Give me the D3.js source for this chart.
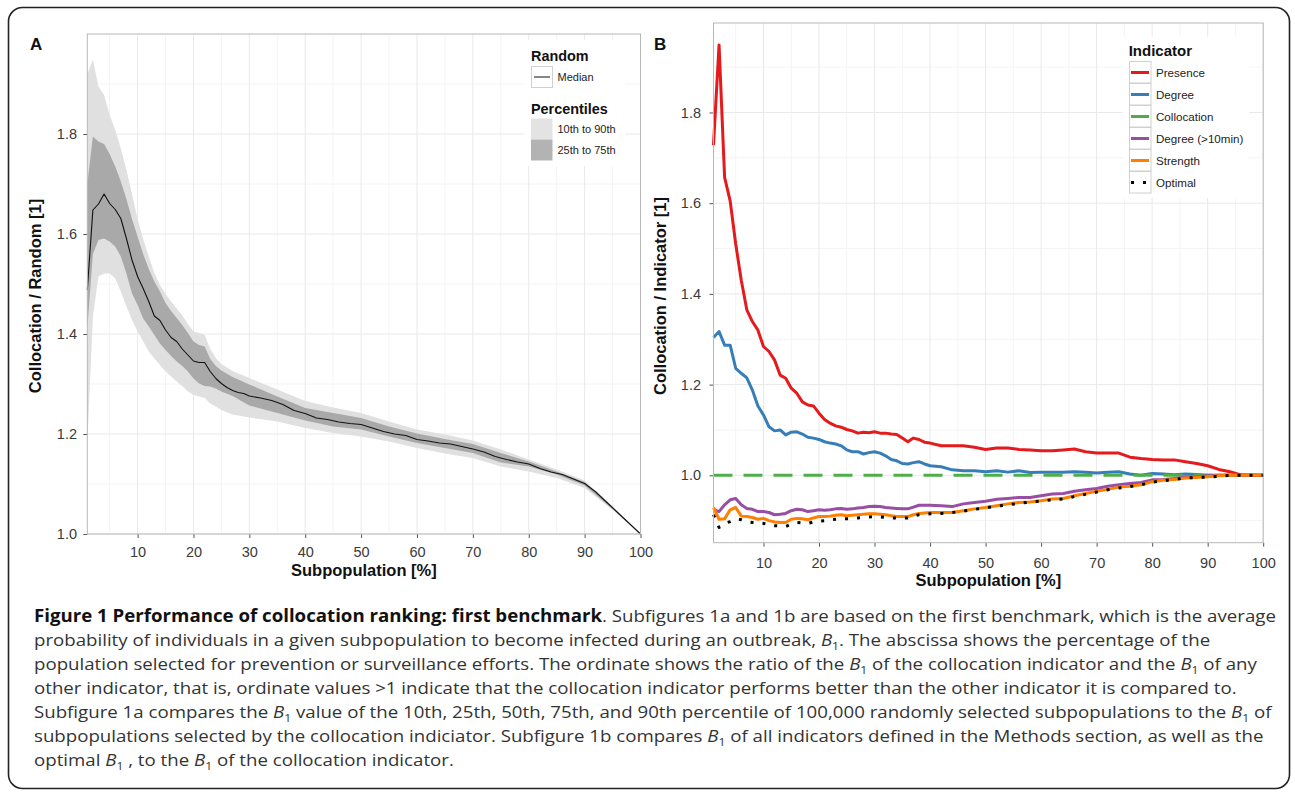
<!DOCTYPE html>
<html>
<head>
<meta charset="utf-8">
<script src="https://cdn.jsdelivr.net/npm/d3@7"></script>
<style>
  body { margin: 0; background: #fff; }
  text { font-family: "Liberation Sans", Arial, Helvetica, sans-serif; }
  .cap { font-family: "Open Sans", "Noto Sans", sans-serif; }
</style>
</head>
<body>
<svg id="fig" width="1295" height="795"></svg>
<script>
// ---- panel A: collocation / random (median + percentile bands)
var medX = [1,2,3,4,5,6,7,8,9,10,11,12,13,14,15,16,17,18,19,20,21,22,23,24,25,26,27,28,29,30,
            32,34,36,38,40,42,44,46,48,50,52,54,56,58,60,62,64,66,68,70,72,74,76,78,80,82,84,86,88,90,92,94,96,98,100];
var median = [1.488,1.648,1.660,1.680,1.661,1.649,1.631,1.591,1.548,1.515,
              1.491,1.465,1.436,1.427,1.408,1.393,1.385,1.370,1.358,1.346,
              1.343,1.343,1.325,1.311,1.301,1.293,1.287,1.283,1.281,1.276,
              1.272,1.267,1.259,1.247,1.241,1.232,1.229,1.224,1.221,1.219,
              1.212,1.205,1.200,1.197,1.189,1.186,1.182,1.180,1.175,1.170,
              1.164,1.155,1.149,1.144,1.140,1.131,1.124,1.119,1.110,1.101,
              1.084,1.063,1.042,1.021,1.000];

var bandX = [1,2,3,4,5,6,7,8,9,10,11,12,13,14,15,16,17,18,19,20,21,22,23,24,25,27,30,
             35,40,45,50,55,60,65,70,75,80,85,90,95,100];
var p90 = [1.920,1.949,1.895,1.878,1.838,1.808,1.771,1.728,1.680,1.630,
           1.590,1.555,1.522,1.498,1.480,1.465,1.451,1.437,1.420,1.405,1.402,1.398,
           1.370,1.352,1.340,1.326,1.312,
           1.289,1.266,1.253,1.242,1.225,1.209,1.199,1.187,1.169,1.149,1.129,1.107,1.056,1.000];
var p75 = [1.700,1.795,1.785,1.780,1.760,1.735,1.705,1.670,1.630,1.595,
           1.560,1.530,1.505,1.485,1.462,1.446,1.432,1.418,1.402,1.385,1.378,1.375,
           1.350,1.336,1.327,1.314,1.299,
           1.275,1.252,1.242,1.232,1.215,1.201,1.190,1.180,1.162,1.145,1.125,1.104,1.053,1.000];
var p25 = [1.410,1.560,1.588,1.591,1.585,1.575,1.555,1.521,1.481,1.458,
           1.431,1.415,1.398,1.381,1.368,1.356,1.345,1.336,1.325,1.311,1.301,1.296,
           1.295,1.291,1.285,1.276,1.257,
           1.242,1.227,1.215,1.209,1.195,1.182,1.172,1.162,1.143,1.135,1.119,1.097,1.050,1.000];
var p10 = [1.180,1.435,1.515,1.521,1.521,1.511,1.485,1.455,1.428,1.405,
           1.385,1.365,1.351,1.338,1.325,1.315,1.305,1.296,1.285,1.278,1.275,1.272,
           1.261,1.255,1.248,1.239,1.233,
           1.225,1.212,1.202,1.195,1.185,1.172,1.161,1.152,1.135,1.125,1.112,1.092,1.048,1.000];

// ---- panel B: collocation / indicator
var bX = [1,2,3,4,5,6,7,8,9,10,11,12,13,14,15,16,17,18,19,20,21,22,23,24,25,26,27,28,29,30,
          31,32,33,34,35,36,37,38,39,40,
          42,44,46,48,50,52,54,56,58,60,62,64,66,68,70,72,74,76,78,80,82,84,86,88,90,92,94,96,98,100];
var presence = [1.728,1.949,1.657,1.605,1.510,1.430,1.365,1.339,1.320,1.284,
                1.273,1.254,1.221,1.214,1.192,1.181,1.162,1.155,1.153,1.137,
                1.123,1.115,1.109,1.106,1.101,1.098,1.093,1.095,1.094,1.096,
                1.093,1.093,1.091,1.090,1.082,1.074,1.082,1.079,1.073,1.071,
                1.065,1.065,1.065,1.062,1.057,1.060,1.060,1.057,1.056,1.054,
                1.054,1.056,1.058,1.052,1.049,1.049,1.049,1.040,1.037,1.035,
                1.034,1.034,1.030,1.026,1.021,1.013,1.008,1.001,1.000,1.000];
var degree = [1.304,1.317,1.287,1.287,1.236,1.225,1.215,1.188,1.153,1.133,
              1.107,1.098,1.100,1.089,1.095,1.096,1.091,1.084,1.082,1.079,
              1.074,1.071,1.069,1.065,1.056,1.052,1.052,1.047,1.050,1.052,
              1.049,1.043,1.035,1.032,1.026,1.025,1.028,1.030,1.025,1.021,
              1.019,1.012,1.010,1.010,1.008,1.010,1.007,1.010,1.006,1.007,
              1.007,1.007,1.008,1.007,1.005,1.007,1.008,1.003,1.000,1.004,
              1.003,1.001,1.003,1.002,1.000,1.000,1.000,1.000,1.000,1.000];
var collocationX = [1, 100];
var collocation = [1.000, 1.000];
var degree10 = [0.924,0.920,0.935,0.946,0.949,0.935,0.927,0.925,0.920,0.920,
                0.918,0.913,0.914,0.916,0.922,0.925,0.924,0.920,0.922,0.924,
                0.923,0.924,0.926,0.927,0.925,0.926,0.928,0.929,0.931,0.932,
                0.931,0.929,0.928,0.927,0.926,0.926,0.930,0.934,0.934,0.934,
                0.933,0.931,0.937,0.940,0.943,0.947,0.949,0.951,0.951,0.955,
                0.959,0.960,0.965,0.968,0.971,0.976,0.979,0.982,0.984,0.990,
                0.991,0.993,0.996,0.997,0.999,1.000,1.000,1.000,1.000,1.000];
var strength = [0.929,0.903,0.904,0.924,0.929,0.910,0.909,0.907,0.903,0.905,
                0.900,0.897,0.896,0.896,0.903,0.905,0.904,0.902,0.906,0.909,
                0.909,0.910,0.912,0.913,0.911,0.912,0.913,0.914,0.915,0.915,
                0.914,0.913,0.911,0.909,0.909,0.909,0.913,0.916,0.917,0.918,
                0.918,0.918,0.922,0.926,0.929,0.933,0.937,0.940,0.941,0.944,
                0.948,0.949,0.955,0.960,0.965,0.969,0.974,0.976,0.979,0.986,
                0.989,0.991,0.994,0.995,0.997,0.999,1.000,1.000,1.000,1.000];
var optimal = [0.913,0.885,0.894,0.898,0.904,0.902,0.898,0.896,0.895,0.894,
               0.891,0.889,0.888,0.887,0.892,0.896,0.895,0.894,0.897,0.899,
               0.900,0.902,0.903,0.904,0.904,0.905,0.906,0.907,0.908,0.909,
               0.908,0.907,0.906,0.906,0.906,0.906,0.910,0.913,0.914,0.915,
               0.916,0.918,0.921,0.925,0.928,0.932,0.935,0.938,0.941,0.943,
               0.946,0.948,0.953,0.958,0.963,0.968,0.972,0.975,0.979,0.985,
               0.988,0.991,0.994,0.995,0.996,0.998,1.000,1.000,1.000,1.000];

var indicatorNames = ["Presence", "Degree", "Collocation", "Degree (>10min)", "Strength", "Optimal"];

// ticks
var xTicks = [10, 20, 30, 40, 50, 60, 70, 80, 90, 100];
var xMinor = [5, 15, 25, 35, 45, 55, 65, 75, 85, 95];
var yTicks = [1.0, 1.2, 1.4, 1.6, 1.8];
var aMinorY = [1.1, 1.3, 1.5, 1.7, 1.9];
var bMinorY = [0.9, 1.1, 1.3, 1.5, 1.7, 1.9];

var indicatorColors = ["#e41a1c", "#377eb8", "#4daf4a", "#984ea3", "#ff7f00", "#000000"],
    indicatorDash = [null, null, "19,11", null, null, "3,9"];

var svg = d3.select("#fig");

// outer frame
svg.append("rect")
    .attr("x", 8.5).attr("y", 7.5)
    .attr("width", 1281).attr("height", 781)
    .attr("rx", 14).attr("ry", 14)
    .attr("fill", "#fff")
    .attr("stroke", "#222")
    .attr("stroke-width", 1.6);

var xA = d3.scaleLinear().domain([1, 100]).range([87.3, 640.5]),
    yA = d3.scaleLinear().domain([1.0, 2.0]).range([534, 34]),
    xB = d3.scaleLinear().domain([1, 100]).range([713.5, 1263.2]),
    yB = d3.scaleLinear().domain([0.8514, 1.9973]).range([542.7, 23]);

function drawGrid(g, x, y, minorY) {
  var xr = x.range(), yr = y.range();
  g.append("rect")
      .attr("x", xr[0]).attr("y", yr[1])
      .attr("width", xr[1] - xr[0]).attr("height", yr[0] - yr[1])
      .attr("fill", "#fff");
  g.selectAll(".vminor").data(xMinor).enter().append("line")
      .attr("x1", function(d) { return x(d); }).attr("x2", function(d) { return x(d); })
      .attr("y1", yr[1]).attr("y2", yr[0])
      .attr("stroke", "#f4f4f4").attr("stroke-width", 1);
  g.selectAll(".hminor").data(minorY).enter().append("line")
      .attr("y1", function(d) { return y(d); }).attr("y2", function(d) { return y(d); })
      .attr("x1", xr[0]).attr("x2", xr[1])
      .attr("stroke", "#f4f4f4").attr("stroke-width", 1);
  g.selectAll(".vmajor").data(xTicks).enter().append("line")
      .attr("x1", function(d) { return x(d); }).attr("x2", function(d) { return x(d); })
      .attr("y1", yr[1]).attr("y2", yr[0])
      .attr("stroke", "#e9e9e9").attr("stroke-width", 1);
  g.selectAll(".hmajor").data(yTicks).enter().append("line")
      .attr("y1", function(d) { return y(d); }).attr("y2", function(d) { return y(d); })
      .attr("x1", xr[0]).attr("x2", xr[1])
      .attr("stroke", "#e9e9e9").attr("stroke-width", 1);
}

function drawAxes(g, x, y, xPad, yPad) {
  var xr = x.range(), yr = y.range();
  var ax = g.append("g")
      .attr("transform", "translate(0," + yr[0] + ")")
      .call(d3.axisBottom(x).tickValues(xTicks).tickSize(4).tickPadding(xPad));
  var ay = g.append("g")
      .attr("transform", "translate(" + xr[0] + ",0)")
      .call(d3.axisLeft(y).tickValues(yTicks).tickSize(4).tickPadding(yPad).tickFormat(d3.format(".1f")));
  [ax, ay].forEach(function(a) {
    a.select(".domain").remove();
    a.selectAll(".tick line").attr("stroke", "#555");
    a.selectAll(".tick text")
        .attr("fill", "#3a3a3a")
        .style("font-size", "14.5px")
        .style("font-family", "'Liberation Sans', Arial, sans-serif");
  });
  // panel border
  g.append("rect")
      .attr("x", xr[0]).attr("y", yr[1])
      .attr("width", xr[1] - xr[0]).attr("height", yr[0] - yr[1])
      .attr("fill", "none")
      .attr("stroke", "#b8b8b8").attr("stroke-width", 1);
}

// ================= Panel A =================
var gA = svg.append("g");
drawGrid(gA, xA, yA, aMinorY);

var bands = bandX.map(function(d, i) { return { x: d, p10: p10[i], p25: p25[i], p75: p75[i], p90: p90[i] }; });

gA.append("path")
    .datum(bands)
    .attr("fill", "#e0e0e0")
    .attr("d", d3.area()
        .x(function(d) { return xA(d.x); })
        .y0(function(d) { return yA(d.p10); })
        .y1(function(d) { return yA(d.p90); }));

gA.append("path")
    .datum(bands)
    .attr("fill", "#a9a9a9")
    .attr("d", d3.area()
        .x(function(d) { return xA(d.x); })
        .y0(function(d) { return yA(d.p25); })
        .y1(function(d) { return yA(d.p75); }));

gA.append("path")
    .datum(medX.map(function(d, i) { return [d, median[i]]; }))
    .attr("fill", "none")
    .attr("stroke", "#111")
    .attr("stroke-width", 1.1)
    .attr("stroke-linejoin", "round")
    .attr("d", d3.line()
        .x(function(d) { return xA(d[0]); })
        .y(function(d) { return yA(d[1]); }));

// legend A
var legA = gA.append("g");
legA.append("rect").attr("x", 525).attr("y", 40).attr("width", 100).attr("height", 126).attr("fill", "#fff");
legA.append("text").text("Random").attr("x", 531).attr("y", 61)
    .style("font-size", "14.4px").style("font-weight", "bold").attr("fill", "#111");
legA.append("rect").attr("x", 531.5).attr("y", 66.5).attr("width", 21).attr("height", 21)
    .attr("fill", "#fff").attr("stroke", "#d0d0d0");
legA.append("line").attr("x1", 534).attr("x2", 550).attr("y1", 77).attr("y2", 77)
    .attr("stroke", "#333").attr("stroke-width", 1.2);
legA.append("text").text("Median").attr("x", 557.5).attr("y", 81)
    .style("font-size", "11px").attr("fill", "#222");
legA.append("text").text("Percentiles").attr("x", 531).attr("y", 114)
    .style("font-size", "14.4px").style("font-weight", "bold").attr("fill", "#111");
legA.append("rect").attr("x", 531).attr("y", 118.5).attr("width", 21.5).attr("height", 21).attr("fill", "#e3e3e3");
legA.append("rect").attr("x", 531).attr("y", 139.5).attr("width", 21.5).attr("height", 21).attr("fill", "#b3b3b3");
legA.append("text").text("10th to 90th").attr("x", 557.5).attr("y", 133)
    .style("font-size", "11px").attr("fill", "#222");
legA.append("text").text("25th to 75th").attr("x", 557.5).attr("y", 154)
    .style("font-size", "11px").attr("fill", "#222");

drawAxes(gA, xA, yA, 9, 6.3);

gA.append("text").text("Subpopulation [%]")
    .attr("x", (xA.range()[0] + xA.range()[1]) / 2).attr("y", 576)
    .attr("text-anchor", "middle")
    .style("font-size", "16.5px").style("font-weight", "bold").attr("fill", "#111");
gA.append("text").text("Collocation / Random [1]")
    .attr("transform", "translate(41,296) rotate(-90)")
    .attr("text-anchor", "middle")
    .style("font-size", "16.5px").style("font-weight", "bold").attr("fill", "#111");
gA.append("text").text("A").attr("x", 30).attr("y", 50)
    .style("font-size", "17px").style("font-weight", "bold").attr("fill", "#111");

// ================= Panel B =================
var gB = svg.append("g");
drawGrid(gB, xB, yB, bMinorY);

var seriesB = [
  { xs: bX, ys: presence },
  { xs: bX, ys: degree },
  { xs: collocationX, ys: collocation },
  { xs: bX, ys: degree10 },
  { xs: bX, ys: strength },
  { xs: bX, ys: optimal }
];

var lineB = d3.line()
    .x(function(d) { return xB(d[0]); })
    .y(function(d) { return yB(d[1]); });

gB.selectAll(".ind").data(seriesB).enter().append("path")
    .attr("class", "ind")
    .attr("fill", "none")
    .attr("stroke", function(d, i) { return indicatorColors[i]; })
    .attr("stroke-width", 3)
    .attr("stroke-linejoin", "round")
    .attr("stroke-dasharray", function(d, i) { return indicatorDash[i]; })
    .attr("d", function(d) { return lineB(d.xs.map(function(v, j) { return [v, d.ys[j]]; })); });

// legend B
var legB = gB.append("g");
legB.append("rect").attr("x", 1123).attr("y", 37).attr("width", 126).attr("height", 161).attr("fill", "#fff");
legB.append("text").text("Indicator").attr("x", 1128.7).attr("y", 56)
    .style("font-size", "15px").style("font-weight", "bold").attr("fill", "#111");
var keys = legB.selectAll(".key").data(indicatorNames).enter().append("g")
    .attr("transform", function(d, i) { return "translate(1129," + (61 + i * 22) + ")"; });
keys.append("rect").attr("x", 0.5).attr("y", 0.5).attr("width", 21.5).attr("height", 21.5)
    .attr("fill", "#fff").attr("stroke", "#d0d0d0");
keys.append("line").attr("x1", 2).attr("x2", 20).attr("y1", 11.5).attr("y2", 11.5)
    .attr("stroke", function(d, i) { return indicatorColors[i]; })
    .attr("stroke-width", 3)
    .attr("stroke-dasharray", function(d, i) { return i == 5 ? "3,9" : null; });
keys.append("text").text(function(d) { return d; })
    .attr("x", 27).attr("y", 15.5)
    .style("font-size", "11.6px").attr("fill", "#222");

drawAxes(gB, xB, yB, 11, 8.5);

gB.append("text").text("Subpopulation [%]")
    .attr("x", (xB.range()[0] + xB.range()[1]) / 2).attr("y", 586)
    .attr("text-anchor", "middle")
    .style("font-size", "16.5px").style("font-weight", "bold").attr("fill", "#111");
gB.append("text").text("Collocation / Indicator [1]")
    .attr("transform", "translate(666,296) rotate(-90)")
    .attr("text-anchor", "middle")
    .style("font-size", "16.5px").style("font-weight", "bold").attr("fill", "#111");
gB.append("text").text("B").attr("x", 654).attr("y", 50)
    .style("font-size", "17px").style("font-weight", "bold").attr("fill", "#111");

// ================= Caption =================
var B1 = [{ t: "B", it: 1 }, { t: "1", sub: 1 }];
var captionLines = [
  [{ t: "Figure 1 Performance of collocation ranking: first benchmark", b: 1 },
   { t: ". Subfigures 1a and 1b are based on the first benchmark, which is the average" }],
  [{ t: "probability of individuals in a given subpopulation to become infected during an outbreak, " }].concat(B1,
   [{ t: ". The abscissa shows the percentage of the" }]),
  [{ t: "population selected for prevention or surveillance efforts. The ordinate shows the ratio of the " }].concat(B1,
   [{ t: " of the collocation indicator and the " }], B1, [{ t: " of any" }]),
  [{ t: "other indicator, that is, ordinate values >1 indicate that the collocation indicator performs better than the other indicator it is compared to." }],
  [{ t: "Subfigure 1a compares the " }].concat(B1,
   [{ t: " value of the 10th, 25th, 50th, 75th, and 90th percentile of 100,000 randomly selected subpopulations to the " }], B1, [{ t: " of" }]),
  [{ t: "subpopulations selected by the collocation indiciator. Subfigure 1b compares " }].concat(B1,
   [{ t: " of all indicators defined in the Methods section, as well as the" }]),
  [{ t: "optimal " }].concat(B1, [{ t: " , to the " }], B1, [{ t: " of the collocation indicator." }])
];

var cap = svg.append("g");
captionLines.forEach(function(line, li) {
  var txt = cap.append("text")
      .attr("class", "cap")
      .attr("x", 0).attr("y", 622 + li * 24)
      .style("font-size", "17px")
      .attr("fill", "#333");
  var shift = 0;
  line.forEach(function(s) {
    var ts = txt.append("tspan").text(s.t);
    if (s.b) ts.style("font-weight", "bold").attr("fill", "#111");
    if (s.it) ts.style("font-style", "italic");
    if (s.sub) { ts.attr("dy", 4).style("font-size", "11px"); shift = 4; }
    else if (shift) { ts.attr("dy", -shift); shift = 0; }
  });
});
var firstW = cap.select("text").node().getComputedTextLength();
cap.attr("transform", "translate(34,0) scale(" + (1243 / firstW) + ",1)");
</script>
</body>
</html>
